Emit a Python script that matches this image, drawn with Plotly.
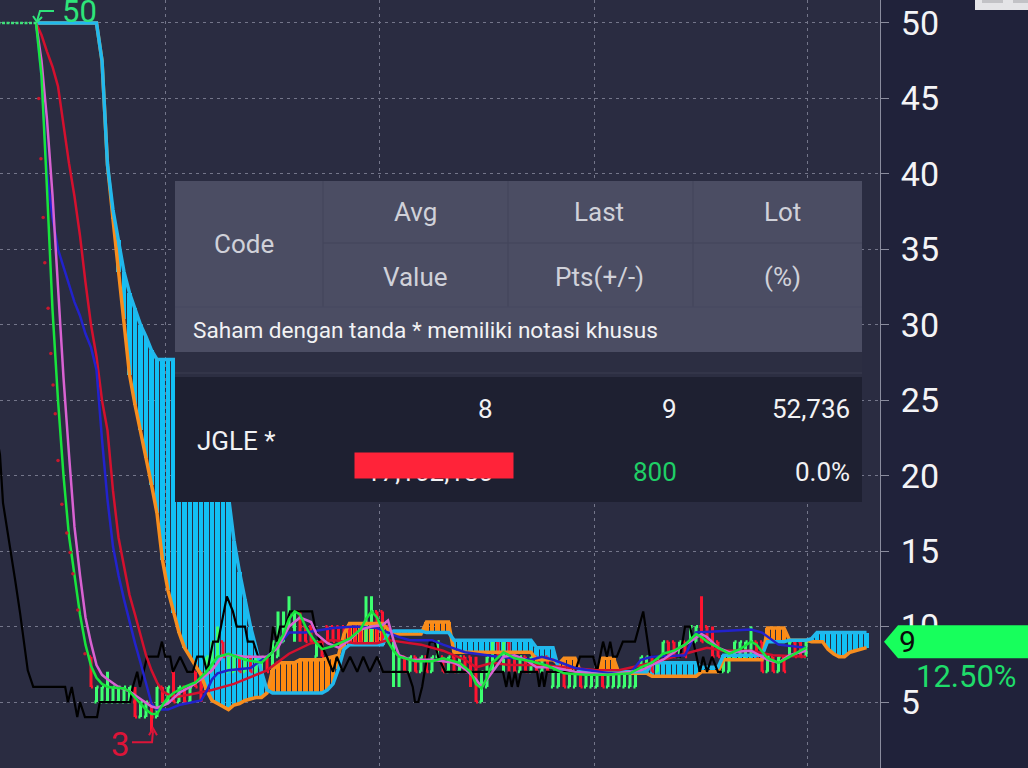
import numpy as np
import plotly.graph_objects as go

# ---------------- data (bar index = time, values = price) ----------------
y_ticks = [5, 10, 15, 20, 25, 30, 35, 40, 45, 50]
period_starts = [29.5, 68.5, 107.5, 146.2]

ohlc_bars = list(range(16, 147))
ohlc_open = [8,5,5,5,5,5,5,5,5,4,
             4,5,4,6,5,7,5,6,5,7,
             7,7,7,8,9,7,7,8,7,8,
             7,7,8,8,8,9,10,10,11,10,
             10,8,9,10,10,10,10,10,10,10,
             9,9,11,11,10,7,7,8,7,8,
             7,8,7,8,8,7,8,7,8,8,
             7,5,6,7,9,8,9,8,7,8,
             7,8,7,8,6,6,7,6,6,7,
             6,6,6,7,6,6,6,6,6,6,
             7,7,8,7,8,9,9,8,9,9,
             9,10,10,9,9,7,7,8,8,8,
             8,9,9,7,8,7,8,8,9,9,
             8]
ohlc_high = [8,6,6,7,6,6,6,6,6,5,
             5,5,6,6,6,7,6,6,6,7,
             7,8,9,10,9,8,8,8,8,8,
             8,8,8,9,11,11,12,11,11,10,
             10,9,9,10,10,10,10,10,10,10,
             12,12,11,11,10,9,8,8,8,8,
             8,8,8,9,8,8,8,8,8,8,
             8,7,8,9,9,9,9,8,8,8,
             8,8,8,8,7,7,7,7,7,7,
             7,7,7,7,7,7,7,7,7,7,
             8,8,8,8,9,9,9,9,9,10,
             10,12,10,10,9,8,8,9,9,9,
             10,9,9,8,8,8,8,9,9,9,
             9]
ohlc_low = [6,5,5,5,5,5,5,5,4,4,
            4,3,4,5,5,5,5,5,5,6,
            5,7,7,8,8,7,7,7,7,7,
            7,7,7,7,8,9,10,9,9,9,
            9,8,8,9,9,9,9,9,9,9,
            9,9,9,9,9,6,6,7,7,7,
            7,7,7,8,7,7,7,7,7,6,
            5,5,6,7,8,7,7,7,7,7,
            7,7,7,7,6,6,6,6,6,6,
            6,6,6,6,6,6,6,6,6,6,
            7,7,7,7,8,8,8,8,8,9,
            9,9,9,8,8,7,7,8,8,8,
            8,8,7,7,7,7,7,8,8,8,
            8]
ohlc_close = [6,6,6,6,6,6,6,6,4,5,
              5,4,6,5,6,5,6,5,6,6,
              6,8,9,9,8,8,8,7,8,7,
              8,8,7,9,9,10,11,11,10,9,
              9,9,8,9,9,9,9,9,9,9,
              10,11,10,9,9,9,8,7,8,7,
              8,7,8,9,7,8,7,8,7,7,
              5,7,8,9,8,9,8,7,8,7,
              8,7,8,7,7,7,6,7,7,6,
              7,7,7,6,7,7,7,7,7,7,
              8,8,7,8,9,8,8,9,8,10,
              10,9,9,8,8,8,8,9,9,9,
              9,8,7,8,7,8,7,9,8,8,
              9]

cloud_bars = list(range(6, 158))
span_cyan = [50,50,50,50,50,50,50,50,50,50,50,50,
             47.5,40.6,37.6,35.6,33.5,32.1,31.1,30.0,29.2,28.3,27.7,
             27.7,27.7,27.7,27.7,27.7,27.7,27.7,
             27.0,26.0,24.0,22.0,20.0,18.6,15.7,13.6,11.8,10.0,8.6,7.0,5.8,
             5.6,5.6,5.6,5.6,5.6,5.6,5.6,5.6,5.6,5.6,
             5.8,6.2,7.2,8.5,
             8.8,8.8,8.8,8.8,8.8,8.8,8.8,
             9.5,
             9.7,9.7,9.7,9.7,9.7,9.7,
             9.6,9.6,9.6,9.6,9.6,
             9.1,9.1,9.1,9.1,9.1,9.1,9.1,9.1,9.1,9.1,9.1,9.1,9.1,9.1,9.1,
             8.6,8.6,8.6,8.6,
             7.2,
             7.0,7.0,7.0,7.0,7.0,7.0,7.0,7.0,7.0,7.0,7.0,7.0,7.0,7.0,7.0,7.0,
             7.6,7.6,7.6,7.6,7.6,7.6,7.6,7.6,7.6,
             7.3,7.3,7.3,7.3,
             8.1,8.1,8.1,8.1,8.1,8.1,8.1,8.1,
             9.0,9.0,9.0,9.0,
             9.1,9.1,9.1,9.1,
             9.2,
             9.6,9.6,9.6,9.6,9.6,9.6,9.6,9.6,9.6,9.6]
span_orange = [50,50,50,50,50,50,50,50,50,50,50,50,
               47.5,40.6,37.0,33.5,30.4,26.7,24.7,23.0,21.2,19.4,17.5,
               14.4,12.4,10.9,9.6,8.6,8.0,7.3,
               6.8,5.8,5.1,4.9,4.7,4.5,4.8,4.9,5.1,5.2,5.3,5.3,5.6,
               7.1,7.6,7.6,7.6,7.6,7.8,7.8,7.8,7.8,7.8,
               7.9,8.0,8.1,9.5,
               10.2,10.2,10.2,10.2,10.2,10.2,10.2,
               9.8,
               9.5,9.5,9.5,9.5,9.5,9.5,
               10.3,10.3,10.3,10.3,10.3,
               8.3,8.3,8.3,8.3,8.3,8.3,8.3,8.3,8.3,8.3,8.3,8.3,8.3,8.3,8.3,
               7.8,7.8,7.8,7.8,
               7.5,
               7.9,7.9,7.9,7.0,7.0,7.0,7.0,7.9,7.9,7.9,6.9,6.9,6.9,6.9,6.9,6.9,
               6.7,6.7,6.7,6.7,6.7,6.7,6.7,6.7,6.7,
               7.0,7.0,7.0,7.0,
               7.8,7.8,7.8,7.8,7.8,7.8,7.8,7.8,
               9.9,9.9,9.9,9.9,
               9.1,9.1,9.1,9.1,
               9.0,
               9.0,9.0,8.5,8.2,8.0,8.0,8.3,8.4,8.5,8.6]

chikou_x = [-1.1,-0.55,0,1.3,2.2,3.1,4.5,5.5,11.3,11.8,12.5,13.5,14.0,14.9,17.1,17.6,
            23.1,23.6,24.4,24.9,26.2,28.2,28.9,29.5,30.4,30.9,32.2,33.5,34.5,35.3,36.4,37.1,
            38.2,39.1,40.7,41.8,42.5,44.0,44.5,45.5,46.4,48.5,49.1,49.8,50.4,51.3,52.2,56.2,
            56.7,57.6,58.9,60.0,60.7,61.8,63.1,64.4,65.5,66.7,68.0,69.1,71.6,73.6,74.5,74.9,
            75.5,76.2,77.1,77.6,78.5,79.1,80.4,90.4,90.9,91.5,92.0,92.5,93.1,93.6,94.2,97.1,
            97.5,98.0,98.4,98.9,104.0,104.9,107.3,108.0,108.5,109.1,109.8,110.4,110.9,111.6,
            112.7,113.6,114.9,116.4,117.6,123.1,124.0,124.9,126.7,127.3,128.0,128.9,130.0,130.7]
chikou_y = [22.5,21.4,18.2,15.3,13.1,10.9,7.1,6,6,5,6,4,5,4,4,5,
            5,6,7,6,8,8,9,8,8,7,8,7,7,8,8,7,
            9,9,12,11,10,10,9,9,8,8,10,9,10,10,11,11,
            10,9,8,7,8,7,8,7,8,7,8,7,7,7,6,5,
            5,6,8,9,9,8,7,7,7,6,7,6,7,6,7,7,
            6,7,6,7,7,8,8,7,8,9,8,9,8,8,
            9,9,9,11,8,8,10,10,7,8,7,8,7,7]

ma_green_x = [6,7,8,9,10,11,12,13,14,15,16,17,18,19,22,23,24,25,26,27,28,29,30,31,33,35,37,39,41,44,47,49,
              51,52,53,54,55,56,57,58,60,63,65,66,67,68,69,70,71,72,75,78,80,83,85,86,87,88,89,91,93,96,99,
              102,106,110,114,116,118,120,122,124,126,127,128,130,132,134,136,137,139,141,143,146]
ma_green_y = [50,46.5,39,31,25,20,16,13.3,10.8,8.8,7.4,6.6,6.2,6.0,5.9,5.7,5.3,4.9,4.5,4.2,4.2,4.8,5.3,5.6,
              6.0,6.3,7.0,8.0,8.2,7.8,7.6,8.3,9.5,10.5,11.0,10.8,10.0,9.4,8.9,8.5,8.7,9.2,9.8,10.5,11.0,10.6,
              9.8,9.0,8.4,8.0,7.7,7.7,7.9,7.6,7.0,6.2,5.9,6.6,7.6,8.3,7.9,7.7,7.4,6.9,6.8,6.8,6.9,7.3,7.6,
              8.2,8.4,8.8,9.5,9.3,9.0,8.6,8.2,8.5,9.0,8.8,7.9,7.6,8.0,8.6]
ma_magenta_x = [6,7,8,9,10,11,12,13,14,15,16,17,18,19,21,23,25,27,28,30,32,34,36,38,40,42,44,46,48,50,52,54,
                56,57,59,61,63,65,67,69,70,71,72,74,78,82,84,86,87,89,91,93,95,97,100,104,110,116,120,124,
                127,128,130,132,136,139,141,143,146]
ma_magenta_y = [50,47.5,43.6,38.6,32.5,26.5,21.4,16.6,13.4,10.6,8.9,7.45,6.8,6.5,6.0,5.7,5.2,4.7,4.6,4.9,5.6,
                6.0,6.5,7.1,8.1,8.1,8.0,8.0,8.0,8.6,10.0,10.6,10.3,9.5,8.9,8.6,9.1,9.8,10.0,10.1,10.4,9.1,8.1,
                7.8,7.8,7.6,7.2,6.5,6.0,7.0,8.0,8.1,7.8,7.3,7.3,7.0,6.8,7.1,7.8,8.8,9.5,9.3,8.6,8.3,8.4,7.8,
                7.6,8.1,8.4]
ma_blue_x = [6,7,8,9,10,11,12,13,14,15,16,17,18,19,20,21,22,23,24,25,26,27,28,30,32,36,37,38,39,41,45,49,52,
             55,60,64,68,70,72,74,78,80,84,90,96,98,100,104,110,114,116,118,124,126,136,138,141,146]
ma_blue_y = [50,46.5,40.0,37.1,35.0,33.8,32.6,31.5,30.6,29.4,28.5,27.0,22.4,18.4,15.3,13.4,11.8,10.3,8.9,7.6,
             6.3,4.9,4.5,4.5,4.8,5.1,5.7,6.5,6.9,7.1,7.25,8.3,9.6,9.6,9.9,10.0,9.9,9.6,9.3,9.1,9.1,8.8,8.3,
             8.0,7.8,8.0,7.8,7.25,6.9,6.9,7.8,8.0,8.1,9.6,9.8,9.6,8.8,8.6]
ma_red_x = [6,7,8,9,10,11,12,13,14,15,16,17,18,19,20,21,22,23,24,25,26,27,28,29,31,34,38,42,48,52,56,60,64,
            68,70,72,76,80,84,86,89,92,98,102,108,112,118,124,128,131,136,140,146]
ma_red_y = [50,49.2,48.1,47.1,45.8,43.1,40.7,38.5,35.9,32.8,30.0,27.9,25.0,23.0,19.0,15.9,13.9,12.1,10.8,9.4,
            8.1,7.1,6.3,5.7,5.3,5.5,5.8,6.2,7.1,8.2,8.9,9.1,8.9,8.9,9.1,9.0,8.8,8.4,7.8,7.3,7.6,7.45,7.45,
            7.3,7.1,7.1,7.6,8.2,8.6,8.4,8.4,8.1,8.0]

flat_x = [-1, 6]
flat_y = [50, 50]
sar_x = [6.5,6.9,7.3,7.6,8.2,8.7,9.1,9.5,10.0,10.7,11.6,12.2,12.7,13.6,14.9]
sar_y = [45.0,41.0,37.1,34.1,31.1,28.1,26.0,24.1,21.0,18.1,16.2,14.9,13.5,11.1,8.2]

high_mark = (6, 50)
low_mark = (27, 3)

tbl_code = "Code"
tbl_head_top = ["Avg", "Last", "Lot"]
tbl_head_bottom = ["Value", "Pts(+/-)", "(%)"]
tbl_note = "Saham dengan tanda * memiliki notasi khusus"
tbl_stock = "JGLE *"
tbl_row_top = ["8", "9", "52,736"]
tbl_row_bottom = ["17,102,180", "800", "0.0%"]

# ---------------- geometry helpers ----------------
W, H = 1028, 768
PLOT_W = 880
X0, X1 = -0.545, 159.45
Y0, Y1 = 0.626, 51.52
BPX = PLOT_W / (X1 - X0)
VPX = H / (Y1 - Y0)


def px(x):
    return x / PLOT_W


def py(y):
    return 1 - y / H


def rel_path(ax, ay, pts):
    return "M " + " L ".join(f"{ax + dx / BPX:.4f},{ay - dy / VPX:.4f}" for dx, dy in pts)


fig = go.Figure()

# ---------------- cloud ----------------
A = np.array(span_cyan, dtype=float)
B = np.array(span_orange, dtype=float)
xb = np.array(cloud_bars)
lo = np.minimum(A, B)
hi = np.maximum(A, B)
cy = A >= B
fig.add_trace(go.Bar(x=xb[cy], y=(hi - lo)[cy], base=lo[cy], width=0.74,
                     marker=dict(color="#12c0f4", line=dict(width=0)), hoverinfo="skip"))
fig.add_trace(go.Bar(x=xb[~cy], y=(hi - lo)[~cy], base=lo[~cy], width=0.74,
                     marker=dict(color="#ff8a10", line=dict(width=0)), hoverinfo="skip"))
fig.add_trace(go.Scatter(x=cloud_bars, y=span_orange, mode="lines",
                         line=dict(color="#f78d1e", width=3.5), hoverinfo="skip"))
fig.add_trace(go.Scatter(x=cloud_bars, y=span_cyan, mode="lines",
                         line=dict(color="#22b8ec", width=3.5), hoverinfo="skip"))

# ---------------- lagging line ----------------
fig.add_trace(go.Scatter(x=chikou_x, y=chikou_y, mode="lines",
                         line=dict(color="#000000", width=2.2), hoverinfo="skip"))

# ---------------- moving averages ----------------
fig.add_trace(go.Scatter(x=ma_red_x, y=ma_red_y, mode="lines",
                         line=dict(color="#d4102e", width=2.5), hoverinfo="skip"))
fig.add_trace(go.Scatter(x=ma_blue_x, y=ma_blue_y, mode="lines",
                         line=dict(color="#2222cc", width=2.5), hoverinfo="skip"))
fig.add_trace(go.Scatter(x=ma_magenta_x, y=ma_magenta_y, mode="lines",
                         line=dict(color="#d862d2", width=2.5), hoverinfo="skip"))
fig.add_trace(go.Scatter(x=ma_green_x, y=ma_green_y, mode="lines",
                         line=dict(color="#18e43c", width=2.5), hoverinfo="skip"))
fig.add_trace(go.Scatter(x=flat_x, y=flat_y, mode="lines",
                         line=dict(color="#3ee07a", width=2.5, dash="3px,1.5px"), hoverinfo="skip"))
fig.add_trace(go.Scatter(x=sar_x, y=sar_y, mode="markers",
                         marker=dict(color="#c8182e", size=3.5), hoverinfo="skip"))

# ---------------- price bars ----------------
fig.add_trace(go.Ohlc(x=ohlc_bars, open=ohlc_open, high=ohlc_high, low=ohlc_low, close=ohlc_close,
                      increasing=dict(line=dict(color="#3dff70", width=3)),
                      decreasing=dict(line=dict(color="#ff1430", width=3)),
                      tickwidth=0.38, hoverinfo="skip"))

shapes = []
annotations = []

# high / low markers
hx, hy = high_mark
shapes.append(dict(type="path", xref="x", yref="y", layer="above",
                   path=rel_path(hx, hy, [(18, -12), (4, -12), (1, -2)]),
                   line=dict(color="#2ee47a", width=2)))
shapes.append(dict(type="path", xref="x", yref="y", layer="above",
                   path=rel_path(hx, hy, [(-3, -7), (1, -1), (6, -6)]),
                   line=dict(color="#2ee47a", width=2)))
annotations.append(dict(x=hx, y=hy, xref="x", yref="y", text=f"{hy}", showarrow=False,
                        xshift=43.5, yshift=11, font=dict(family="Roboto", size=31, color="#2ee47a")))
lx, ly = low_mark
shapes.append(dict(type="path", xref="x", yref="y", layer="above",
                   path=rel_path(lx, ly, [(-19.5, 10), (0.5, 10), (1.5, -1)]),
                   line=dict(color="#dc1438", width=2)))
shapes.append(dict(type="path", xref="x", yref="y", layer="above",
                   path=rel_path(lx, ly, [(-2.5, 3), (1.5, -4), (5.5, 3)]),
                   line=dict(color="#dc1438", width=2)))
annotations.append(dict(x=lx, y=ly, xref="x", yref="y", text=f"{ly}", showarrow=False,
                        xshift=-31.5, yshift=-12, font=dict(family="Roboto", size=33, color="#dc1438")))

# ---------------- table overlay ----------------
def rect(x0, y0, x1, y1, color):
    shapes.append(dict(type="rect", xref="paper", yref="paper", layer="above",
                       x0=px(x0), x1=px(x1), y0=py(y1), y1=py(y0),
                       fillcolor=color, line=dict(width=0)))


def hline(x0, x1, y, color):
    shapes.append(dict(type="line", xref="paper", yref="paper", layer="above",
                       x0=px(x0), x1=px(x1), y0=py(y), y1=py(y), line=dict(color=color, width=1)))


def vline(x, y0, y1, color):
    shapes.append(dict(type="line", xref="paper", yref="paper", layer="above",
                       x0=px(x), x1=px(x), y0=py(y0), y1=py(y1), line=dict(color=color, width=1)))


rect(175, 181, 862, 352, "#4b4d63")
rect(175, 352, 862, 377, "#2c2e42")
hline(175, 862, 373, "#3a3c50")
rect(175, 377, 862, 502, "#1e2031")
for xs in (323, 508, 693):
    vline(xs, 181, 307, "#43455a")
hline(323, 862, 243, "#43455a")
hline(175, 862, 307, "#464860")


def txt(x, y, s, size, color, anchor="center"):
    annotations.append(dict(x=px(x), y=py(y), xref="paper", yref="paper", text=s, showarrow=False,
                            xanchor=anchor, yanchor="middle",
                            font=dict(family="Roboto", size=size, color=color)))


head_col = "#d0d1d9"
txt(244, 244, tbl_code, 26, head_col)
for cx, s in zip((415, 599, 782), tbl_head_top):
    txt(cx, 212, s, 26, head_col)
for cx, s in zip((415, 599, 782), tbl_head_bottom):
    txt(cx, 277, s, 26, head_col)
txt(191, 331, tbl_note, 22.6, "#f2f2f4", "left")
txt(195, 441, tbl_stock, 26, "#f2f2f4", "left")
for rx, s in zip((495, 679, 852), tbl_row_top):
    txt(rx, 409, s, 26, "#f2f2f4", "right")
for rx, s, col in zip((495, 679, 852), tbl_row_bottom, ("#f2f2f4", "#1fcf66", "#f2f2f4")):
    txt(rx, 472, s, 26, col, "right")
# red block covering the value cell
annotations.append(dict(x=px(434), y=py(465.5), xref="paper", yref="paper", text=" ", showarrow=False,
                        xanchor="center", yanchor="middle", width=158, height=25, borderpad=0,
                        bgcolor="#ff2339", font=dict(size=8)))

# ---------------- last price tag ----------------
last = ohlc_close[-1]
prev = ohlc_close[-2]
hh = 16.5 / VPX
shapes.append(dict(type="path", xref="paper", yref="y", layer="above",
                   path=(f"M {px(884)},{last} L {px(898)},{last + hh} L {px(1030)},{last + hh} "
                         f"L {px(1030)},{last - hh} L {px(898)},{last - hh} Z"),
                   fillcolor="#17ff5c", line=dict(width=0)))
annotations.append(dict(x=px(897), y=last, xref="paper", yref="y", text=f"{last}", showarrow=False,
                        xanchor="left", yanchor="middle",
                        font=dict(family="Roboto", size=30, color="#0a0a0a")))
annotations.append(dict(x=px(966), y=last - 35 / VPX, xref="paper", yref="y",
                        text=f"{(last - prev) / prev * 100:.2f}%", showarrow=False,
                        xanchor="center", yanchor="middle",
                        font=dict(family="Roboto", size=31, color="#1fdc6a")))

# top-right widget fragment
rect(975, -2, 1030, 10, "#e4e4e7")
rect(982, -2, 1003, 3, "#c2c2c6")
rect(1013, -2, 1030, 3, "#c2c2c6")

grid_col = "#74768a"
fig.update_layout(
    width=W, height=H, autosize=False,
    margin=dict(l=0, r=W - PLOT_W, t=0, b=0, pad=0),
    paper_bgcolor="#20223a", plot_bgcolor="#2a2c41",
    showlegend=False, barmode="overlay", bargap=0, hovermode=False,
    shapes=shapes, annotations=annotations,
    xaxis=dict(range=[X0, X1], tickvals=period_starts, showticklabels=False, ticks="",
               showgrid=True, gridcolor=grid_col, griddash="3px,4px", gridwidth=1,
               zeroline=False, showline=False, rangeslider=dict(visible=False), fixedrange=True),
    yaxis=dict(side="right", range=[Y0, Y1], tickvals=y_ticks, ticks="outside", ticklen=8,
               tickwidth=1, tickcolor="#8a8c9e", showline=True, linecolor="#8a8c9e", linewidth=1,
               showgrid=True, gridcolor=grid_col, griddash="3px,4px", gridwidth=1, zeroline=False,
               tickfont=dict(family="Roboto", size=34, color="#f4f4f6"), ticklabelstandoff=5,
               fixedrange=True),
)

fig.write_html("out.html")
